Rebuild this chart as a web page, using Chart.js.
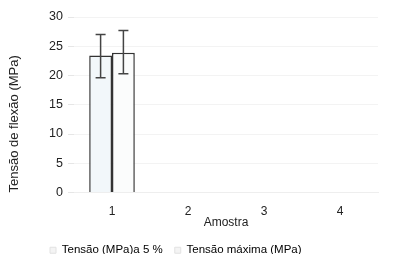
<!DOCTYPE html>
<html><head><meta charset="utf-8">
<script src="https://cdn.jsdelivr.net/npm/chart.js@4.4.1/dist/chart.umd.min.js"></script>
<style>html,body{margin:0;background:#fff}#wrap{width:402px;height:254px}</style>
</head><body><div id="wrap"><canvas id="c"></canvas></div>
<script>
const labels = ["1","2","3","4"];
const tensao5 = [23.4, null, null, null];
const tensao5Err = [[19.6, 27.0], null, null, null];
const tensaoMax = [23.9, null, null, null];
const tensaoMaxErr = [[20.3, 27.7], null, null, null];

// error bars drawn on top of the bars, through the y scale
const errBars = {
  id:"errBars",
  afterDatasetsDraw(chart){
    const ctx = chart.ctx, y = chart.scales.y;
    chart.data.datasets.forEach((ds,i)=>{
      chart.getDatasetMeta(i).data.forEach((bar,j)=>{
        const e = ds.err[j]; if(!e) return;
        const x = bar.x, lo = y.getPixelForValue(e[0]), hi = y.getPixelForValue(e[1]);
        ctx.save(); ctx.strokeStyle="#444"; ctx.lineWidth=1.5;
        ctx.beginPath();
        ctx.moveTo(x,lo); ctx.lineTo(x,hi);
        ctx.moveTo(x-5,lo); ctx.lineTo(x+5,lo);
        ctx.moveTo(x-5,hi); ctx.lineTo(x+5,hi);
        ctx.stroke(); ctx.restore();
      });
    });
  }
};
// legend sits lower and a bit left of centre in the original
const shiftLegend = {id:"shiftLegend",afterLayout(chart){const l=chart.legend; l.left+=35; l.right+=35; l.top+=12; l.bottom+=12;}};

Chart.defaults.font.family = "'Liberation Sans', Arial, sans-serif";
Chart.defaults.color = "#222";
new Chart(document.getElementById("c"),{
  type:"bar",
  data:{labels,datasets:[
    {label:"Tensão (MPa)a 5 %",data:tensao5,err:tensao5Err,backgroundColor:"#f2f7fa",borderColor:"#333",borderWidth:1.5},
    {label:"Tensão máxima (MPa)",data:tensaoMax,err:tensaoMaxErr,backgroundColor:"#fbfcfc",borderColor:"#333",borderWidth:1.5}
  ]},
  options:{
    responsive:true,maintainAspectRatio:false,animation:false,
    layout:{padding:{left:3,right:24,top:17,bottom:0}},
    datasets:{bar:{barPercentage:1,categoryPercentage:0.6}},
    plugins:{
      legend:{position:"bottom",align:"start",labels:{boxWidth:6,boxHeight:6,font:{size:11.5},padding:12,
        generateLabels:(ch)=>ch.data.datasets.map((d,i)=>({text:d.label,fillStyle:"#f4f4f4",strokeStyle:"#e2e2e2",lineWidth:1,datasetIndex:i}))}},
      tooltip:{enabled:false}
    },
    scales:{
      x:{grid:{display:false},border:{color:"#eee"},ticks:{font:{size:12},padding:4},
        title:{display:true,text:"Amostra",font:{size:12},padding:{top:0,bottom:-9}},
        afterFit:s=>{s.height=28;}},
      y:{min:0,max:30,ticks:{stepSize:5,font:{size:12.5},padding:5},grid:{color:"#f3f3f3",tickColor:"#e6e6e6",tickLength:6},border:{display:false},
        title:{display:true,text:"Tensão de flexão (MPa)",font:{size:13},align:"start",padding:{top:4,bottom:0}},
        afterFit:s=>{s.width=71;}}
    }
  },
  plugins:[errBars,shiftLegend]
});
</script></body></html>
